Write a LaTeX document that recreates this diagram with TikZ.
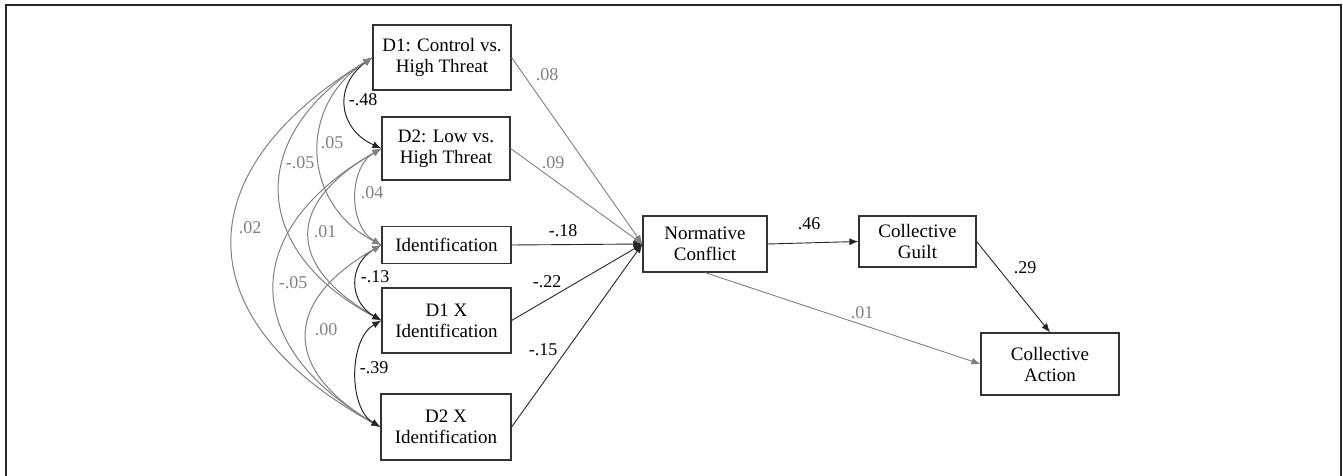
\documentclass[tikz,border=0pt]{standalone}
\usepackage{fontspec}
\setmainfont{Liberation Serif}
\usepackage{tikz}
\usetikzlibrary{arrows.meta}

\definecolor{nsgray}{gray}{0.5}

\begin{document}
\begin{tikzpicture}[x=1pt,y=-1pt,
  var/.style={draw=black!80, line width=1.2pt, align=center, font=\fontsize{19}{21}\selectfont, inner sep=0pt},
  est/.style={font=\fontsize{18}{20}\selectfont, inner sep=1pt},
  estns/.style={est, text=nsgray},
  reg/.style={-{Latex[length=9pt,width=7pt]}, line width=0.9pt, draw=black!85},
  regns/.style={reg, draw=nsgray},
  cov/.style={{Latex[length=9pt,width=7pt]}-{Latex[length=9pt,width=7pt]}, line width=1pt, draw=nsgray, bend right=60},
  covs/.style={cov, draw=black!85},
]
\useasboundingbox (0,0) rectangle (1343,476);
% frame
\draw[line width=2pt, black!85] (6,476) -- (6,5) -- (1341,5) -- (1341,476);
% predictors
\node[var, minimum width=138, minimum height=65] (d1) at (442,57.5) {D1: Control vs.\\High Threat};
\node[var, minimum width=128, minimum height=63] (d2) at (446,148.5) {D2: Low vs.\\High Threat};
\node[var, minimum width=129, minimum height=37] (id) at (446.5,245) {Identification};
\node[var, minimum width=129, minimum height=65] (d1x) at (446.5,320.5) {D1 X\\Identification};
\node[var, minimum width=130, minimum height=66] (d2x) at (446,427) {D2 X\\Identification};
% mediator and outcomes
\node[var, minimum width=124, minimum height=56] (nc) at (705,244) {Normative\\Conflict};
\node[var, minimum width=117, minimum height=51] (cg) at (917.5,241.5) {Collective\\Guilt};
\node[var, minimum width=138, minimum height=62] (ca) at (1050,364) {Collective\\Action};
% paths to normative conflict
\draw[regns] (d1.east) -- (nc.west);
\draw[regns] (d2.east) -- (nc.west);
\draw[reg] (id.east) -- (nc.west);
\draw[reg] (d1x.east) -- (nc.west);
\draw[reg] (d2x.east) -- (nc.west);
\node[estns] (b1) at (547,75) {.08};
\node[estns] (b2) at (553,163) {.09};
\node[est] (b3) at (563,231) {-.18};
\node[est] (b4) at (547,282) {-.22};
\node[est] (b5) at (543,350) {-.15};
% paths to outcomes
\draw[reg] (nc.east) -- (cg.west);
\draw[reg] (cg.east) -- (ca.north);
\draw[regns] (nc.south) -- (ca.west);
\node[est] (b6) at (809,224) {.46};
\node[est] (b7) at (1025,268) {.29};
\node[estns] (b8) at (862,313) {.01};
% covariances
\draw[covs] (d1.west) to[looseness=1.34] (d2.west);
\draw[cov] (d1.west) to[looseness=1.22] (id.west);
\draw[cov] (d1.west) to[looseness=1.45] (d1x.west);
\draw[cov] (d1.west) to[looseness=1.53] (d2x.west);
\draw[cov] (d2.west) to[looseness=1.02] (id.west);
\draw[cov] (d2.west) to[looseness=1.65] (d1x.west);
\draw[cov] (d2.west) to[looseness=1.5] (d2x.west);
\draw[covs] (id.west) to[looseness=1.3] (d1x.west);
\draw[cov] (id.west) to[looseness=1.6] (d2x.west);
\draw[covs] (d1x.west) to[looseness=0.9] (d2x.west);
\node[est] (c1) at (363,100) {-.48};
\node[estns] (c2) at (332,143) {.05};
\node[estns] (c3) at (300,163) {-.05};
\node[estns] (c4) at (250,228) {.02};
\node[estns] (c5) at (372,193) {.04};
\node[estns] (c6) at (325,232) {.01};
\node[estns] (c7) at (293,283) {-.05};
\node[est] (c8) at (375,277) {-.13};
\node[estns] (c9) at (326,330) {.00};
\node[est] (c10) at (374,368) {-.39};
\end{tikzpicture}
\end{document}
